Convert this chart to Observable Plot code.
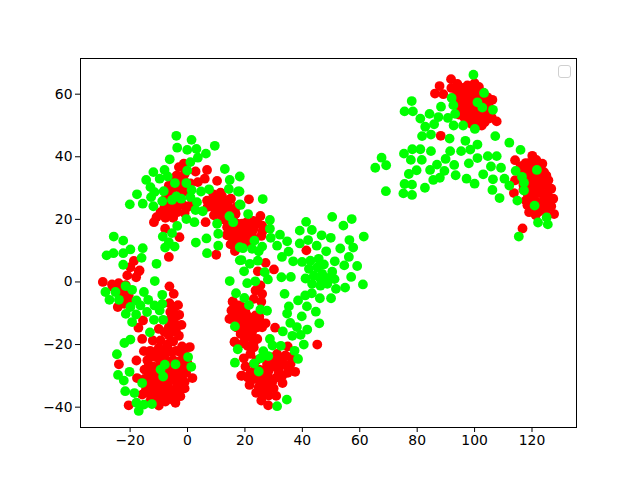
<!DOCTYPE html>
<html>
<head>
<meta charset="utf-8">
<script src="https://cdn.jsdelivr.net/npm/d3@7"></script>
<script src="https://cdn.jsdelivr.net/npm/@observablehq/plot@0.6"></script>
<style>
html,body{margin:0;padding:0;background:#fff}
#wrap{position:relative;width:640px;height:480px}
#legend{position:absolute;left:558px;top:65px;width:11px;height:11px;border:1px solid #d0d0d0;border-radius:3px;background:#fff}
</style>
</head>
<body>
<div id="wrap"><div id="legend"></div></div>
<script>
const xTicks=[-20,0,20,40,60,80,100,120];
const yTicks=[-40,-20,0,20,40,60];
const xDomain=[-37.28,135.5];
const yDomain=[-46.5,71.4];

const redUpperLeft=[[-3,36.7],[-1.3,37.8],[2.8,35.3],[6.8,35.8],[-3.8,34],[6,33],[3.6,31.9],[10.3,32.3],[-6.5,30.8],[-2.5,33.5],[-2.5,29.8],[-6.5,28.7],[-1.3,28.7],[11.5,28.5],[15.1,26.6],[6.8,26],[9.2,26],[11.5,26.6],[8,24.4],[10.3,23.9],[13.2,23.4],[9.2,21.3],[12.6,25],[16.7,21.8],[13.8,17.5],[17.3,18.6],[13.8,14.9],[17.3,14.3],[15,12],[16.5,9.9],[10,8.7],[6.3,19.1],[-1.3,24.4],[-3.6,22.3],[-0.1,23.9],[-7.1,22.8],[-9.4,22.3],[-10.8,20.7],[-7.7,20.5],[-11.7,19.1],[-7.8,17],[-2.8,14.3],[-6.5,8],[-4.8,24.4],[-4,27],[-6,25],[21.4,26.4],[25.4,21.1],[9.7,26.5],[15,26.5],[13.8,23.3],[9.7,22.8],[16.7,21.7],[19,18.6],[21.9,18],[24.3,19.1],[26,18],[13.8,15.1],[16.7,15.9],[19.6,15.4],[22.5,15.9],[25.7,14.7],[15.5,12.2],[19.6,13.2],[27.2,6.1],[30.1,4],[24.5,3.4],[41.4,10.1]];
const redUpperLeftDense=[[-5,30],[-3,31.5],[-1,32],[-1,34.5],[-5,32],[-0.5,30],[1,31.5],[-8,24],[-6,22.5],[-3,24.5],[-1,22],[1,24.5],[-5,20.5],[-3,26.5],[-7.5,27],[7,24],[9,28],[10,27.5],[12,27.5],[13,26],[14,24.5],[15,23],[17,24],[11,22],[13,21],[15,20],[16,19.5],[12,20],[15,17],[16,16],[14,19],[18,17],[16,13.5],[18.5,16],[15,15],[20,17],[23,17],[21,14],[23,14],[18,14],[20.5,19],[23,19.5],[17.5,16],[26,16],[20,12],[18,12.5],[22,12.5]];
const redLowerLeft=[[-18.7,6.7],[-19.9,4.7],[-16.7,3.7],[-21,2.1],[-17.9,1.5],[-17,3.3],[-29.5,0],[-26.3,-0.8],[-24,-0.4],[-6.3,-1.4],[-4.8,-3.8],[-22.4,-3.2],[-20.5,-4.3],[-22.2,-5.9],[-24.3,-8],[-6.3,-6.8],[-3.3,-7.4],[-6,-9.6],[-2.9,-10.5],[-4.8,-12.3],[-2.1,-13.7],[-15.5,-12.3],[-17.1,-14.6],[-10,-15],[-6.5,-14.4],[-6.5,-17.1],[-3,-17.2],[-15.8,-18.2],[-12.1,-18.7],[-9.4,-18.7],[0.8,-20.8],[-1.9,-20.6],[-15.2,-22.1],[-17.8,-25.1],[-23.9,-26.3],[-17.6,-30.7],[1.7,-30.7],[-1,-32],[-3.6,-33.1],[-15.8,-36],[-2.5,-36.5],[-20.5,-39.4],[-10,-39.5],[-4.2,-38.6],[-7.7,-38.2],[-13,-22],[-10,-21],[-7,-21],[-4,-22],[-1,-23],[-14,-25],[-11,-24],[-8,-24],[-5,-25],[-2,-25],[0,-26],[-15,-28],[-12,-27],[-9,-27],[-6,-28],[-3,-28],[-0.5,-29],[-15,-31],[-12,-30],[-9,-30],[-6,-31],[-3,-31],[-13,-33],[-10,-33],[-7,-33],[-4,-34],[-13,-36],[-10,-36],[-7,-36],[-4,-36],[-11,-38]];
const redLowerLeftDense=[[-11.5,-22.5],[-8.5,-22.5],[-5.5,-22.5],[-2.5,-22.5],[-13,-24],[-9.5,-25.5],[-6.5,-25.5],[-3.5,-25.5],[-0.5,-25],[-13.5,-26.5],[-10.5,-28.5],[-7.5,-29],[-4.5,-29.5],[-1.5,-29.5],[-13.5,-29],[-13.5,-31.5],[-10.5,-31.5],[-7.5,-31.5],[-4.5,-31.5],[-2,-32],[-14.5,-33],[-11.5,-34.5],[-8.5,-34.5],[-5.5,-35],[-2.5,-34.5],[-14.5,-34.5],[-11.5,-36.5],[-8.5,-37],[-5.5,-37.5],[-13,-38],[-1,-27],[-1,-34],[-23,-5],[-22,-7],[-20,-6],[-23.5,-2],[-21.5,-1],[-26,-1.5],[-4.5,-8],[-5,-10.5],[-4,-11],[-6,-12],[-3.5,-14],[-5,-15.5],[-4,-16],[-5,-19],[-8,-16],[-7,-20]];
const redLowerMiddle=[[15.8,-6.2],[16.7,-9.1],[15,-11.8],[16.4,-19.1],[18.7,-30],[25.4,-1.1],[23.7,-2.7],[26,-3.8],[23.1,-5.4],[25.7,-6.3],[15.7,-6.3],[17.9,-7.5],[15.3,-9.1],[14.6,-11.8],[17.9,-10.2],[20.2,-9.7],[17.9,-12.9],[20.8,-12.3],[23.7,-10.7],[27.2,-13.2],[24.3,-14.5],[21.4,-15],[18.5,-16.6],[21.9,-17.7],[24.3,-18.2],[16.4,-19.3],[19.3,-19.6],[30.5,-14.6],[45.2,-20],[23.1,-20.9],[21.9,-23],[19.6,-24.4],[34.9,-20.6],[31.2,-23],[34.1,-23.5],[30.6,-25.6],[33.6,-26.2],[35.9,-26.2],[20.2,-27],[28.3,-28.3],[31.8,-28.8],[34.9,-29],[37.5,-28.7],[19,-29.9],[26,-30.4],[29.5,-32],[33.1,-32.3],[21.6,-32.9],[24.8,-33.6],[27.7,-34.2],[23.9,-35.4],[30.9,-36.4],[28.3,-36.3],[25.7,-37.9],[28.1,-39.4],[23.1,-26.2],[27.7,-26.2],[23.1,-28.8]];
const redLowerMiddleDense=[[17,-9],[19,-8],[21,-11],[19,-11],[16,-11],[22,-13],[19,-14],[17,-14.5],[20,-16],[23,-13],[25,-12],[22.5,-16],[20,-18],[23,-19.5],[21,-20.5],[26,-14.5],[25,-11],[18,-11.5],[19,-10],[30,-27],[32,-25],[29,-24],[36,-24],[32,-27],[35,-27.5],[33,-30],[31,-30.5],[28,-30],[25,-28],[27,-28],[25,-31.5],[23,-31],[27,-32],[25,-35],[27,-36],[28,-33],[30,-34],[22,-29],[21,-30.5],[29,-26],[24,-25]];
const redUpperRight=[[91.8,64.8],[94,63.3],[87.8,62.6],[97.5,62.8],[101.5,62.3],[91.9,62],[86.2,60.2],[89.1,60],[94.6,60.7],[97.5,60.7],[100.4,60.2],[95.1,58],[98,58],[106.2,58.2],[103.9,57.5],[95.1,55.4],[98,55.4],[101,54.8],[104.4,54.8],[96.3,52.7],[99.2,52.7],[102.1,52.7],[105,52.2],[98,51.6],[102.5,50],[107.7,51.3],[88.2,46.7],[120.1,40.3],[114.1,38.9],[123.6,37.8],[117.8,38],[124.2,35.1],[119.5,35.7],[117.2,35.7],[125.7,32.5],[121.9,33],[119,33],[114.1,32.5],[126.7,29.8],[123,30.3],[120.1,29.8],[113.7,28.4],[127.4,26.6],[124.2,27.1],[120.7,27.1],[117.8,26],[126.7,24.2],[123.6,23.9],[118.4,24.5],[119,22.3],[121.3,21.3],[124.8,22.9],[127.7,21.7],[116.7,17.1]];
const redUpperRightDense=[[96,60],[99,60],[102,59],[96.5,57],[99.5,57],[102,58],[104.5,59],[96.5,54],[99.5,54],[102.5,54],[105,56],[97.5,52],[100.5,51.5],[103.5,51],[94.5,53.5],[104,53],[103,56],[100,59],[97,59],[93.5,59.5],[94,62],[96,62],[99,62],[100,63.5],[103,60.5],[106,52.5],[99,50.5],[101,50],[119,38],[121,37.5],[118,36.5],[120.5,36],[122.5,36],[118,34],[120.5,34],[123,34],[125,34],[117,31],[119,31.5],[121,31.5],[123.5,32],[125,31],[117,29.5],[118.5,28],[121,28.5],[123,28.5],[125.5,28.5],[116.5,33],[119,26],[121.5,25.5],[123.5,25.5],[125.5,25.5],[120.5,23.5],[122.5,22.5],[118.5,29.5],[116,37],[116,35],[121.5,39],[122,30]];

const greenUpperLeft=[[-3.9,46.7],[1.4,45.4],[-3.6,42.9],[-0.1,42.2],[3.1,42.5],[9.5,43.5],[6.4,41],[3.6,39.7],[-6.2,39.2],[1,38.3],[-11.9,35.1],[-8,35.8],[-0.1,35.6],[13,36.1],[-6.9,33.7],[-9.7,33],[-14.4,32.6],[14.7,32.6],[18.2,33.7],[-4.4,31.6],[-0.4,31.6],[-12.9,30.3],[14.4,29.7],[17.6,28.9],[1.4,29.4],[4.7,28.9],[7.5,29.6],[-8.3,29],[-11.5,28.7],[-12.7,27.1],[-17.6,28],[-3.9,27.3],[-5.4,26.2],[-2.2,26.6],[1,27.1],[-8.8,25.8],[3.3,25.5],[-20.1,24.8],[-15.6,25],[-11.9,24.2],[2.8,23],[5.3,22.6],[18.2,24.8],[14.6,21],[15.9,19.1],[-0.4,20.1],[2.4,19.1],[-3.6,17.9],[10.3,18.6],[10.7,15.4],[-5.4,15.6],[-8.6,14.5],[6.6,13.9],[2.9,12.6],[-6.5,12.7],[-7.8,11],[-4.5,11.3],[10.7,11.6],[6.8,9.2],[18.2,11.1],[18.2,6.9],[-25.7,14.5],[-22.4,13.2],[-19.9,10.4],[-15.6,10.8],[-28.2,8.5],[-25.8,9.2],[-22.4,9.2],[-16,7.7],[-22.4,5.5],[-10.8,5.8],[14.7,0.3]];
const greenLowerLeft=[[-11.4,0.3],[-21.6,-1.3],[-19.3,-2.5],[-28.6,-3.2],[-25.1,-3.2],[-15.2,-3.2],[-8.8,-4.1],[-27.2,-5.7],[-23.9,-5.7],[-17.8,-5.9],[-13.7,-5.7],[-16.4,-7.5],[-19.9,-8],[-11.5,-7.5],[-8.8,-7],[-9.7,-9.1],[-14.1,-9.6],[-21.5,-10.2],[-17.9,-10.4],[-19.3,-12.8],[-11.7,-12.1],[-8.5,-12.1],[-13.1,-16.1],[-19.9,-18.4],[-22,-19.5],[-24.6,-23.1],[-20.2,-28.7],[-24.2,-29.7],[-22.2,-31.5],[-15.8,-32.3],[-21.7,-34.9],[-18.5,-35.5],[-17.8,-38.6],[-15.2,-39.2],[-12.4,-39],[-17,-41.2],[0.2,-24],[1.3,-27.1],[-4.2,-26.3],[-7.9,-26.4],[-9.4,-28],[-8.5,-30.2],[16.9,-3.6],[16.5,-14.2],[17.5,-21.5],[16.5,-25.8]];
const greenMiddle=[[18.1,28.9],[26.2,26.5],[18.5,24.6],[21.1,21.7],[28.7,19.8],[28.7,17],[29,14.1],[32.2,15.1],[34.7,13],[31.2,11.6],[35.2,9.7],[32.9,8],[23.3,13.2],[19.3,10.8],[26,11.3],[22.5,10.6],[24.8,9.8],[18.8,7],[24.5,6.8],[21.7,5.8],[19.7,3.4],[26.9,3.1],[28,0.8],[20.8,-0.4],[23.6,0.2],[32.7,1.5],[36,1.6],[33.8,-3.8],[19.8,-5.1],[21.4,-7.4],[25.4,-8.8],[27.7,-9.2],[35.3,-7.8],[34.7,-10.1],[38.5,-5.9],[41,-4.3],[43.3,-3.6],[46.1,-5.2],[50,-5.2],[41.6,-7.8],[44.7,-9.5],[39.8,-11],[45.9,-13.2],[35.8,-13.1],[38.1,-14.4],[41.7,-15.2],[33.2,-15.8],[36.5,-17.2],[39.4,-16.9],[40.5,-20],[28.7,-18.2],[29.6,-20.3],[32.5,-20.4],[37.3,-22],[38.5,-24.6],[26.4,-22.1],[25.4,-24.4],[28.1,-23.7],[23.2,-26.1],[24.8,-28.6],[34.6,-37.6],[31.2,-39.7],[41.3,19.2],[39.1,16.4],[43.3,16.6],[46.7,14.9],[49.9,14.1],[42,13.4],[39.1,12.3],[45,11.6],[48.3,9.8],[50.4,20.8],[54.3,18],[57.2,20.1],[61.4,14.5],[56.4,13.4],[53.2,10.7],[57.7,11],[56.2,8],[51.3,6.6],[54.6,5.3],[59.1,5.1],[57,1.6],[61.1,-0.8],[54.9,-1.8],[51.7,-2.2],[36.8,6.6],[39.9,6.4],[42.8,6.8],[45.7,7.4],[47.5,5.6],[42.3,4.2],[45.2,4.7],[50.4,3.3],[41.1,1.1],[44,2],[46.9,2.6],[43.4,-0.6],[46.3,-1.2],[48.7,-0.6],[51.2,0.9],[49.2,1.3],[46.3,1]];
const greenRight=[[99.6,66.2],[78.1,57.8],[75.6,54.5],[78.5,54.5],[103.3,60.4],[92,58.8],[92.6,56.5],[88.3,56],[101,57.4],[102.7,55.7],[106.4,55],[84.3,53.7],[87.4,52.7],[93.2,53.7],[90.7,52.4],[81.1,52.2],[85.9,50.4],[82.8,49.6],[92.7,50],[96,50],[100.1,48.9],[81.7,46.6],[84.8,47.1],[107.2,46.6],[91.3,45.8],[96.8,45.1],[112.1,44.5],[101,43.9],[116,42.2],[78.3,42.4],[75.4,41],[81.1,42.4],[84.8,41.8],[91.5,41.8],[95.3,41.8],[98.5,42.3],[77.8,39],[81.6,39],[89.9,39.3],[101,39.6],[104.6,40.2],[107.7,40.2],[67.6,39.7],[65.4,36.5],[69.2,37.3],[86.9,37.5],[92.9,37.4],[98,37.9],[105.7,36.9],[109.2,36.5],[114.3,35.5],[121.7,35.8],[79.8,35.7],[84.5,35.8],[89.5,35.5],[77.1,34.5],[93.4,34.1],[103,34.4],[87.9,33.3],[85.6,32.6],[97.2,33],[106.4,32.8],[110.4,33],[116.5,33.6],[100,31.4],[75.6,31.3],[78.2,31.1],[82.7,30.1],[112.1,30.8],[117.2,31.7],[69.1,29],[75.2,28.3],[78.2,27.8],[106.2,29.4],[117.2,29.2],[108.7,26.8],[114.9,26],[120.9,24.4],[125.1,20.6],[122.1,19],[125.5,18.4],[115.4,14.5]];

const redPoints=[...redUpperLeft,...redUpperLeftDense,...redLowerLeft,...redLowerLeftDense,...redLowerMiddle,...redLowerMiddleDense,...redUpperRight,...redUpperRightDense];
const greenPoints=[...greenUpperLeft,...greenLowerLeft,...greenMiddle,...greenRight];
const fmt=d=>String(d).replace("-","\u2212");

const chart=Plot.plot({
  width:640,height:480,
  marginLeft:80,marginRight:64,marginTop:58,marginBottom:53,
  style:{fontFamily:"'DejaVu Sans'",fontSize:"13.9px",color:"#000",background:"#fff"},
  x:{domain:xDomain,label:null},
  y:{domain:yDomain,label:null},
  marks:[
    Plot.dot(redPoints,{x:d=>d[0],y:d=>d[1],r:4.9,fill:"#ff0000"}),
    Plot.dot(greenPoints,{x:d=>d[0],y:d=>d[1],r:4.9,fill:"#00ff00"}),
    Plot.frame({stroke:"#000",strokeWidth:1}),
    Plot.axisX({ticks:xTicks,tickFormat:fmt,tickSize:5,tickPadding:3,fontSize:13.9,label:null,stroke:"#000"}),
    Plot.axisY({ticks:yTicks,tickFormat:fmt,tickSize:5,tickPadding:3,fontSize:13.9,label:null,stroke:"#000"})
  ]
});
document.getElementById("wrap").prepend(chart);
</script>
</body>
</html>
